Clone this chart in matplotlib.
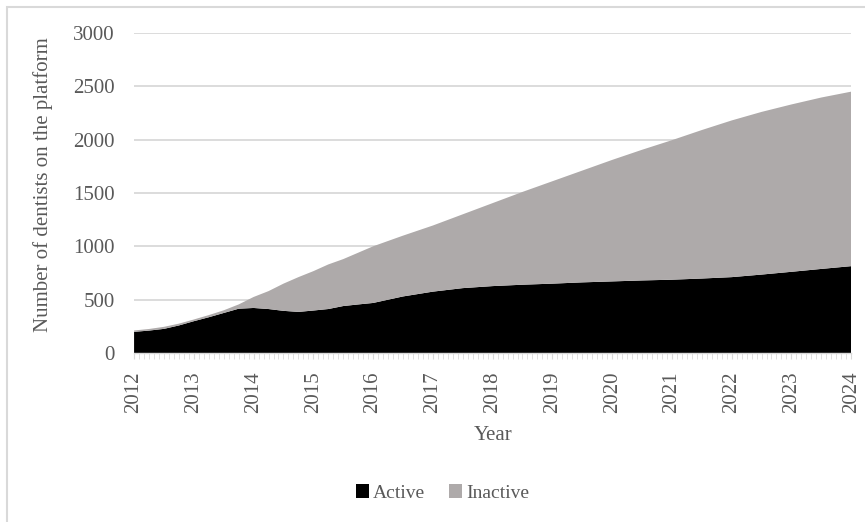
import numpy as np
import matplotlib.pyplot as plt
import matplotlib.patches as mpatches
from matplotlib.ticker import MultipleLocator

# quarterly points until 2016, then half-yearly
years = [2012.0, 2012.25, 2012.5, 2012.75, 2013.0, 2013.25, 2013.5, 2013.75,
         2014.0, 2014.25, 2014.5, 2014.75, 2015.0, 2015.25, 2015.5, 2015.75,
         2016.0, 2016.5, 2017.0, 2017.5, 2018.0, 2018.5, 2019.0, 2019.5,
         2020.0, 2020.5, 2021.0, 2021.5, 2022.0, 2022.5, 2023.0, 2023.5, 2024.0]
active = [198, 210, 226, 258, 298, 335, 375, 415,
          422, 412, 395, 385, 398, 412, 440, 455,
          469, 530, 575, 608, 627, 640, 650, 662,
          671, 680, 687, 698, 711, 735, 761, 788, 814]
inactive = [13, 15, 19, 17, 16, 20, 25, 40,
            103, 168, 255, 326, 369, 418, 440, 485,
            531, 570, 620, 692, 778, 870, 960, 1048,
            1139, 1225, 1308, 1392, 1469, 1525, 1569, 1607, 1636]
year_ticks = list(range(2012, 2025))

plt.rcParams['font.family'] = ['Liberation Serif', 'DejaVu Serif']
text_color = '#595959'
grid_color = '#d9d9d9'

fig = plt.figure(figsize=(8.65, 5.22), dpi=100)
ax = fig.add_axes([0.155, 0.3238, 0.829, 0.613])

ax.stackplot(years, active, inactive, colors=['#000000', '#aeaaaa'],
             labels=['Active', 'Inactive'], linewidth=0)

ax.set_xlim(2012, 2024)
ax.set_ylim(0, 3000)
ax.set_yticks(np.arange(0, 3001, 500))
ax.set_xticks(year_ticks)
ax.set_xticklabels([str(y) for y in year_ticks], rotation=90)
ax.xaxis.set_minor_locator(MultipleLocator(1 / 12))

ax.grid(axis='y', color=grid_color, linewidth=1.3)
ax.set_axisbelow(True)
for s in ['top', 'right', 'left']:
    ax.spines[s].set_visible(False)
ax.spines['bottom'].set_color(grid_color)
ax.spines['bottom'].set_linewidth(1.0)

ax.tick_params(axis='y', length=0, pad=14, labelsize=15, labelcolor=text_color)
ax.tick_params(axis='x', which='major', length=4, color=grid_color, pad=9,
               labelsize=15, labelcolor=text_color)
ax.tick_params(axis='x', which='minor', length=4, color=grid_color)

ax.set_ylabel('Number of dentists on the platform', fontsize=15, color=text_color)
ax.yaxis.set_label_coords(-0.113, 0.525)
ax.set_xlabel('Year', fontsize=15, color=text_color)
ax.xaxis.set_label_coords(0.5, -0.228)

ax.legend(loc='center', bbox_to_anchor=(0.43, -0.4375), ncol=2, frameon=False,
          fontsize=14, labelcolor=text_color, handlelength=0.7, handleheight=0.7,
          handletextpad=0.2, columnspacing=1.2)

# light frame around the chart area
fig.patches.append(mpatches.Rectangle((7 / 865, -0.1), 1.2, 1 - 7 / 522 + 0.1,
                                      transform=fig.transFigure, fill=False,
                                      edgecolor=grid_color, linewidth=1.5))

fig.savefig('out.png', dpi=100)
